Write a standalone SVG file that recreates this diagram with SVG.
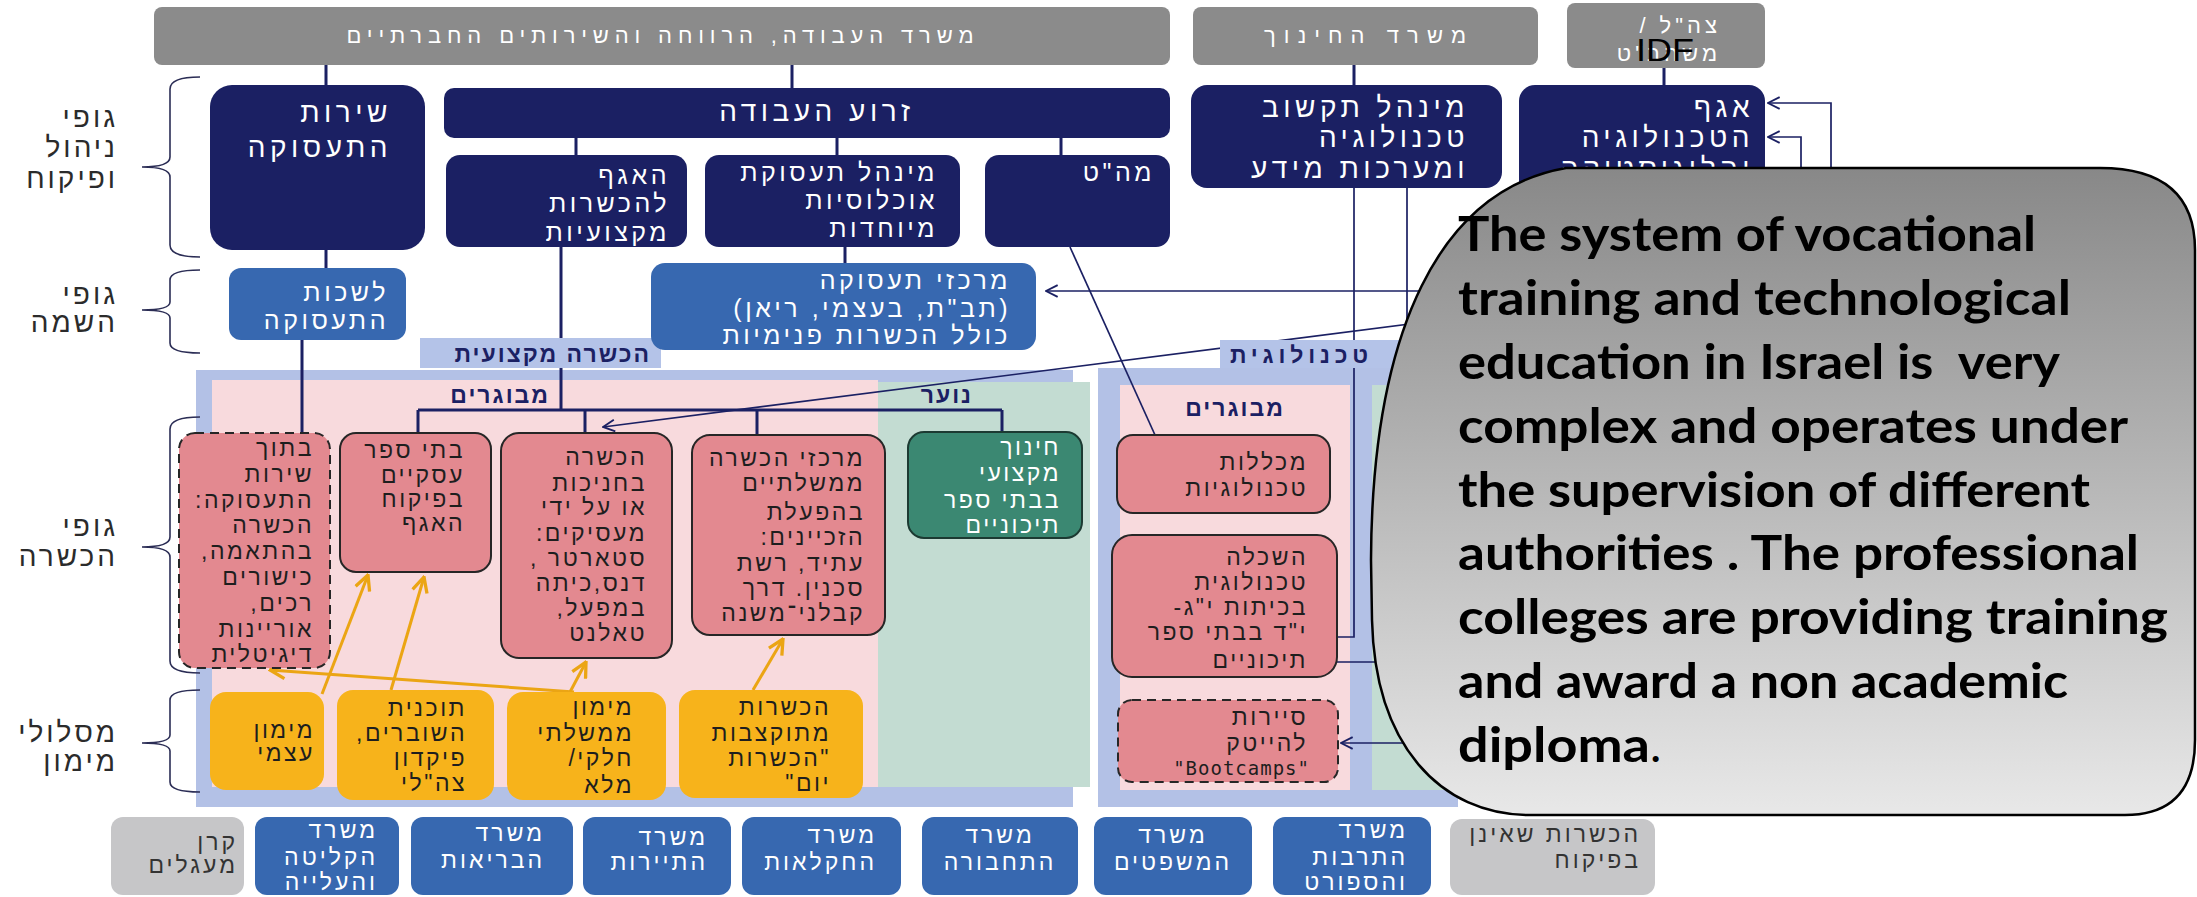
<svg xmlns="http://www.w3.org/2000/svg" width="2197" height="897" viewBox="0 0 2197 897">
<defs>
<style>
.he{font-family:"Liberation Sans","DejaVu Sans",sans-serif;direction:rtl;text-anchor:start}
.c{text-anchor:middle}
.bar{fill:#8b8b8b}
.navy{fill:#1b2063}
.mblue{fill:#3768b0}
.pink{fill:#e38990;stroke:#262626;stroke-width:2}
.dash{stroke-dasharray:9 6}
.green{fill:#3b8872;stroke:#1c3a32;stroke-width:2}
.yel{fill:#f7b31b}
.botb{fill:#3768b0}
.botg{fill:#c6c6c8}
.tBar{font-size:22px;letter-spacing:4px;fill:#fff}
.tNL{font-size:28px;letter-spacing:4.5px;fill:#fff}
.tN{font-size:25px;letter-spacing:3.5px;fill:#fff}
.tP{font-size:23px;letter-spacing:2.5px;fill:#1e1e1e}
.tW{font-size:23px;letter-spacing:2.5px;fill:#fff}
.tB{font-size:23px;letter-spacing:3px;fill:#fff}
.tG{font-size:23px;letter-spacing:3px;fill:#333}
.tS{font-size:28px;letter-spacing:3px;fill:#2b2b2b}
.tL{font-size:23px;letter-spacing:2px;fill:#1b2063;font-weight:bold}
.con{fill:none;stroke:#1b2063;stroke-width:3}
.thin{fill:none;stroke:#1b2063;stroke-width:1.7}
.ya{fill:none;stroke:#eba514;stroke-width:3}
.brace{fill:none;stroke:#2b2d55;stroke-width:1.6}
.call{font-family:Lato,"Open Sans",sans-serif;font-weight:bold;font-size:48px;fill:#000}
</style>
<marker id="an" viewBox="0 0 12 12" refX="11" refY="6" markerWidth="14" markerHeight="14" markerUnits="userSpaceOnUse" orient="auto">
<path d="M1,1 L11,6 L1,11" fill="none" stroke="#1b2063" stroke-width="1.6"/>
</marker>
<marker id="ay" viewBox="0 0 12 12" refX="11" refY="6" markerWidth="18" markerHeight="18" markerUnits="userSpaceOnUse" orient="auto">
<path d="M1,1 L11,6 L1,11" fill="none" stroke="#eba514" stroke-width="2.2"/>
</marker>
<linearGradient id="cg" x1="0" y1="0" x2="0" y2="1">
<stop offset="0" stop-color="#888888"/>
<stop offset="1" stop-color="#e8e8e8"/>
</linearGradient>
</defs>
<rect width="2197" height="897" fill="#ffffff"/>

<!-- frames -->
<g id="frame-professional">
<rect x="196" y="370" width="877" height="437" fill="#b3c1e6"/>
<rect x="212" y="380" width="666" height="407" fill="#f8dadd"/>
<rect x="878" y="382" width="212" height="405" fill="#c3dcd2"/>
</g>
<g id="frame-technological">
<rect x="1098" y="368" width="360" height="439" fill="#b3c1e6"/>
<rect x="1120" y="385" width="230" height="405" fill="#f8dadd"/>
<rect x="1372" y="385" width="86" height="405" fill="#c3dcd2"/>
</g>

<!-- side labels and braces -->
<g id="side-labels">
<path class="brace" d="M200,77 Q170,77 170,89 L170,157 Q170,167 142,167 Q170,167 170,177 L170,245 Q170,257 200,257"/>
<path class="brace" d="M200,270 Q170,270 170,280 L170,302 Q170,310 142,310 Q170,310 170,318 L170,343 Q170,353 200,353"/>
<path class="brace" d="M200,417 Q170,417 170,429 L170,537 Q170,547 142,547 Q170,547 170,557 L170,661 Q170,673 200,673"/>
<path class="brace" d="M200,690 Q170,690 170,700 L170,735 Q170,743 142,743 Q170,743 170,751 L170,782 Q170,792 200,792"/>
<text class="he tS" x="118" y="127">גופי</text>
<text class="he tS" x="118" y="157">ניהול</text>
<text class="he tS" x="118" y="188">ופיקוח</text>
<text class="he tS" x="118" y="304">גופי</text>
<text class="he tS" x="118" y="332">השמה</text>
<text class="he tS" x="118" y="536">גופי</text>
<text class="he tS" x="118" y="566">הכשרה</text>
<text class="he tS" x="118" y="742">מסלולי</text>
<text class="he tS" x="118" y="771">מימון</text>
</g>

<!-- connectors -->
<g id="connectors">
<path class="con" d="M326,65 V85 M792,65 V88 M1354,65 V85 M1664,68 V85"/>
<path class="con" d="M576,138 V155 M837,138 V155 M1061,138 V155"/>
<path class="con" d="M326,250 V268 M302,340 V433 M845,247 V263"/>
<path class="con" d="M561,247 V410 M418,410 H1002 M418,410 V433 M585,410 V433 M757,410 V435 M1002,410 V432"/>
<path class="thin" d="M1070,247 L1155,435"/>
<path class="thin" d="M1354,188 V637 H1337"/>
<path class="thin" d="M1407,188 V662 H1337"/>
<path class="thin" d="M1450,291 H1046" marker-end="url(#an)"/>
<path class="thin" d="M1480,315 L603,427" marker-end="url(#an)"/>
<path class="thin" d="M1831,400 V103 H1768" marker-end="url(#an)"/>
<path class="thin" d="M1801,400 V137 H1768" marker-end="url(#an)"/>
<path class="thin" d="M1420,743 H1341" marker-end="url(#an)"/>
<path class="ya" d="M322,694 L368,575" marker-end="url(#ay)"/>
<path class="ya" d="M391,690 L424,577" marker-end="url(#ay)"/>
<path class="ya" d="M570,692 L586,662" marker-end="url(#ay)"/>
<path class="ya" d="M574,692 L270,670" marker-end="url(#ay)"/>
<path class="ya" d="M753,690 L783,639" marker-end="url(#ay)"/>
</g>

<!-- section labels -->
<g id="label-professional">
<rect x="420" y="338" width="241" height="30" fill="#b4c3e8"/>
<text class="he tL" x="651" y="362">הכשרה מקצועית</text>
</g>
<g id="label-technological">
<rect x="1220" y="340" width="200" height="28" fill="#b4c3e8"/>
<text class="he tL" x="1370" y="363" textLength="140" lengthAdjust="spacing">טכנולוגית</text>
</g>
<g id="label-adults">
<text class="he tL" x="550" y="403">מבוגרים</text>
</g>
<g id="label-youth">
<text class="he tL" x="973" y="403">נוער</text>
</g>
<g id="label-adults-tech">
<text class="he tL c" x="1235" y="416">מבוגרים</text>
</g>

<!-- top ministries -->
<g id="min-labor">
<rect class="bar" x="154" y="7" width="1016" height="58" rx="8"/>
<text class="he tBar c" x="662" y="43" textLength="631" lengthAdjust="spacing">משרד העבודה, הרווחה והשירותים החברתיים</text>
</g>
<g id="min-education">
<rect class="bar" x="1193" y="7" width="345" height="58" rx="8"/>
<text class="he tBar c" x="1367" y="43" textLength="206" lengthAdjust="spacing">משרד החינוך</text>
</g>
<g id="min-defense">
<rect class="bar" x="1567" y="3" width="198" height="65" rx="8"/>
<text class="he tBar" x="1721" y="33">צה"ל /</text>
<text class="he tBar" x="1721" y="61">משהב"ט</text>
</g>

<!-- management bodies -->
<g id="employment-service">
<rect class="navy" x="210" y="85" width="215" height="165" rx="22"/>
<text class="he tNL" x="392" y="122">שירות</text>
<text class="he tNL" x="392" y="157">התעסוקה</text>
</g>
<g id="labor-arm">
<rect class="navy" x="444" y="88" width="726" height="50" rx="10"/>
<text class="he tNL c" x="817" y="121">זרוע העבודה</text>
</g>
<g id="training-division">
<rect class="navy" x="446" y="155" width="241" height="92" rx="14"/>
<text class="he tN" x="670" y="184">האגף</text>
<text class="he tN" x="670" y="212">להכשרות</text>
<text class="he tN" x="670" y="241">מקצועיות</text>
</g>
<g id="special-populations">
<rect class="navy" x="705" y="155" width="255" height="92" rx="14"/>
<text class="he tN" x="938" y="181">מינהל תעסוקת</text>
<text class="he tN" x="938" y="209">אוכלוסיות</text>
<text class="he tN" x="938" y="237">מיוחדות</text>
</g>
<g id="mahat">
<rect class="navy" x="985" y="155" width="185" height="92" rx="14"/>
<text class="he tN" x="1155" y="181">מה"ט</text>
</g>
<g id="tikshuv">
<rect class="navy" x="1191" y="85" width="311" height="103" rx="16"/>
<text class="he tNL" x="1469" y="117">מינהל תקשוב</text>
<text class="he tNL" x="1469" y="147">טכנולוגיה</text>
<text class="he tNL" x="1469" y="178">ומערכות מידע</text>
</g>
<g id="idf-tech">
<rect class="navy" x="1519" y="85" width="246" height="125" rx="16"/>
<text class="he tNL" x="1754" y="117">אגף</text>
<text class="he tNL" x="1754" y="147">הטכנולוגיה</text>
<text class="he tNL" x="1754" y="178">והלוגיסטיקה</text>
</g>

<!-- placement bodies -->
<g id="employment-offices">
<rect class="mblue" x="229" y="268" width="177" height="72" rx="12"/>
<text class="he tN" x="389" y="301">לשכות</text>
<text class="he tN" x="389" y="329">התעסוקה</text>
</g>
<g id="employment-centers">
<rect class="mblue" x="651" y="263" width="385" height="87" rx="14"/>
<text class="he tN" x="1011" y="289">מרכזי תעסוקה</text>
<text class="he tN" x="1011" y="317">(תב"ת, בעצמי, ריאן)</text>
<text class="he tN" x="1011" y="344">כולל הכשרות פנימיות</text>
</g>

<!-- training bodies -->
<g id="within-service">
<rect class="pink dash" x="179" y="433" width="151" height="235" rx="16"/>
<text class="he tP" x="314" y="456">בתוך</text>
<text class="he tP" x="314" y="482">שירות</text>
<text class="he tP" x="314" y="508">התעסוקה:</text>
<text class="he tP" x="314" y="533">הכשרה</text>
<text class="he tP" x="314" y="559">בהתאמה,</text>
<text class="he tP" x="314" y="585">כישורים</text>
<text class="he tP" x="314" y="611">רכים,</text>
<text class="he tP" x="314" y="637">אוריינות</text>
<text class="he tP" x="314" y="662">דיגיטלית</text>
</g>
<g id="business-schools">
<rect class="pink" x="340" y="433" width="151" height="139" rx="16"/>
<text class="he tP" x="465" y="458">בתי ספר</text>
<text class="he tP" x="465" y="483">עסקיים</text>
<text class="he tP" x="465" y="507">בפיקוח</text>
<text class="he tP" x="465" y="531">האגף</text>
</g>
<g id="apprenticeship">
<rect class="pink" x="501" y="433" width="171" height="225" rx="18"/>
<text class="he tP" x="647" y="465">הכשרה</text>
<text class="he tP" x="647" y="491">בחניכות</text>
<text class="he tP" x="647" y="515">או על ידי</text>
<text class="he tP" x="647" y="541">מעסיקים:</text>
<text class="he tP" x="647" y="566">סטארטר ,</text>
<text class="he tP" x="647" y="591">דנס,כיתה</text>
<text class="he tP" x="647" y="616">במפעל,</text>
<text class="he tP" x="647" y="641">טאלנט</text>
</g>
<g id="gov-centers">
<rect class="pink" x="692" y="435" width="193" height="200" rx="18"/>
<text class="he tP" x="865" y="466">מרכזי הכשרה</text>
<text class="he tP" x="865" y="491">ממשלתיים</text>
<text class="he tP" x="865" y="520">בהפעלת</text>
<text class="he tP" x="865" y="545">הזכיינים:</text>
<text class="he tP" x="865" y="571">עתיד, רשת</text>
<text class="he tP" x="865" y="596">סכנין. דרך</text>
<text class="he tP" x="865" y="621">קבלני־משנה</text>
</g>
<g id="vocational-highschool">
<rect class="green" x="908" y="432" width="174" height="106" rx="16"/>
<text class="he tW" x="1061" y="455">חינוך</text>
<text class="he tW" x="1061" y="481">מקצועי</text>
<text class="he tW" x="1061" y="508">בבתי ספר</text>
<text class="he tW" x="1061" y="533">תיכוניים</text>
</g>
<g id="tech-colleges">
<rect class="pink" x="1117" y="435" width="213" height="78" rx="16"/>
<text class="he tP" x="1308" y="470">מכללות</text>
<text class="he tP" x="1308" y="496">טכנולוגיות</text>
</g>
<g id="tech-education">
<rect class="pink" x="1112" y="535" width="225" height="142" rx="20"/>
<text class="he tP" x="1308" y="565">השכלה</text>
<text class="he tP" x="1308" y="590">טכנולוגית</text>
<text class="he tP" x="1308" y="615">בכיתות י"ג-</text>
<text class="he tP" x="1308" y="640">י"ד בבתי ספר</text>
<text class="he tP" x="1308" y="668">תיכוניים</text>
</g>
<g id="bootcamps">
<rect class="pink dash" x="1118" y="700" width="220" height="82" rx="14"/>
<text class="he tP" x="1308" y="725">סיירות</text>
<text class="he tP" x="1308" y="751">להייטק</text>
<text x="1310" y="775" text-anchor="end" font-family="DejaVu Sans Mono, monospace" font-size="19" letter-spacing="1" fill="#1e1e1e">"Bootcamps"</text>
</g>

<!-- funding tracks -->
<g id="self-funding">
<rect class="yel" x="210" y="692" width="114" height="98" rx="16"/>
<text class="he tP" x="315" y="738">מימון</text>
<text class="he tP" x="315" y="761">עצמי</text>
</g>
<g id="vouchers">
<rect class="yel" x="337" y="690" width="157" height="110" rx="16"/>
<text class="he tP" x="467" y="716">תוכנית</text>
<text class="he tP" x="467" y="741">השוברים,</text>
<text class="he tP" x="467" y="766">פיקדון</text>
<text class="he tP" x="467" y="791">צה"לי</text>
</g>
<g id="gov-funding">
<rect class="yel" x="507" y="692" width="159" height="108" rx="16"/>
<text class="he tP" x="634" y="715">מימון</text>
<text class="he tP" x="634" y="741">ממשלתי</text>
<text class="he tP" x="634" y="766">חלקי/</text>
<text class="he tP" x="634" y="793">מלא</text>
</g>
<g id="budgeted">
<rect class="yel" x="679" y="690" width="184" height="108" rx="16"/>
<text class="he tP" x="831" y="715">הכשרות</text>
<text class="he tP" x="831" y="741">מתוקצבות</text>
<text class="he tP" x="831" y="766">"הכשרות</text>
<text class="he tP" x="831" y="791">יום"</text>
</g>

<!-- bottom row -->
<g id="maagalim">
<rect class="botg" x="111" y="817" width="133" height="78" rx="12"/>
<text class="he tG" x="238" y="850">קרן</text>
<text class="he tG" x="238" y="873">מעגלים</text>
</g>
<g id="min-absorption">
<rect class="botb" x="255" y="817" width="144" height="78" rx="12"/>
<text class="he tB" x="378" y="838">משרד</text>
<text class="he tB" x="378" y="865">הקליטה</text>
<text class="he tB" x="378" y="890">והעלייה</text>
</g>
<g id="min-health">
<rect class="botb" x="411" y="817" width="162" height="78" rx="12"/>
<text class="he tB" x="545" y="841">משרד</text>
<text class="he tB" x="545" y="868">הבריאות</text>
</g>
<g id="min-tourism">
<rect class="botb" x="583" y="817" width="148" height="78" rx="12"/>
<text class="he tB" x="708" y="845">משרד</text>
<text class="he tB" x="708" y="870">התיירות</text>
</g>
<g id="min-agriculture">
<rect class="botb" x="742" y="817" width="159" height="78" rx="12"/>
<text class="he tB" x="877" y="843">משרד</text>
<text class="he tB" x="877" y="870">החקלאות</text>
</g>
<g id="min-transport">
<rect class="botb" x="922" y="817" width="156" height="78" rx="12"/>
<text class="he tB c" x="1000" y="843">משרד</text>
<text class="he tB c" x="1000" y="870">התחבורה</text>
</g>
<g id="min-justice">
<rect class="botb" x="1094" y="817" width="158" height="78" rx="12"/>
<text class="he tB c" x="1173" y="843">משרד</text>
<text class="he tB c" x="1173" y="870">המשפטים</text>
</g>
<g id="min-culture">
<rect class="botb" x="1273" y="817" width="158" height="78" rx="12"/>
<text class="he tB" x="1408" y="838">משרד</text>
<text class="he tB" x="1408" y="865">התרבות</text>
<text class="he tB" x="1408" y="890">והספורט</text>
</g>
<g id="unsupervised">
<rect class="botg" x="1450" y="819" width="205" height="76" rx="12"/>
<text class="he tG" x="1641" y="842">הכשרות שאינן</text>
<text class="he tG" x="1641" y="868">בפיקוח</text>
</g>

<!-- callout -->
<g id="callout">
<path d="M1566,168 L2100,168 Q2195,168 2195,250 L2195,740 Q2195,815 2125,815 L1530,815 C1440,815 1375,745 1372,620 L1371,560 C1372,330 1440,190 1566,168 Z" fill="url(#cg)" stroke="#000" stroke-width="2.5"/>
<text class="call" x="1458" y="251" textLength="578" lengthAdjust="spacingAndGlyphs">The system of vocational</text>
<text class="call" x="1458" y="315" textLength="613" lengthAdjust="spacingAndGlyphs">training and technological</text>
<text class="call" x="1458" y="379" textLength="602" lengthAdjust="spacingAndGlyphs" xml:space="preserve">education in Israel is  very</text>
<text class="call" x="1458" y="443" textLength="670" lengthAdjust="spacingAndGlyphs">complex and operates under</text>
<text class="call" x="1458" y="507" textLength="632" lengthAdjust="spacingAndGlyphs">the supervision of different</text>
<text class="call" x="1458" y="570" textLength="681" lengthAdjust="spacingAndGlyphs">authorities . The professional</text>
<text class="call" x="1458" y="634" textLength="710" lengthAdjust="spacingAndGlyphs">colleges are providing training</text>
<text class="call" x="1458" y="698" textLength="610" lengthAdjust="spacingAndGlyphs">and award a non academic</text>
<text class="call" x="1458" y="762"><tspan textLength="192" lengthAdjust="spacingAndGlyphs">diploma</tspan><tspan font-weight="normal">.</tspan></text>
</g>
<g id="idf-label">
<text x="1636" y="61" font-family="Liberation Sans, sans-serif" font-size="32" textLength="58" lengthAdjust="spacingAndGlyphs" fill="#000">IDF</text>
</g>
</svg>
